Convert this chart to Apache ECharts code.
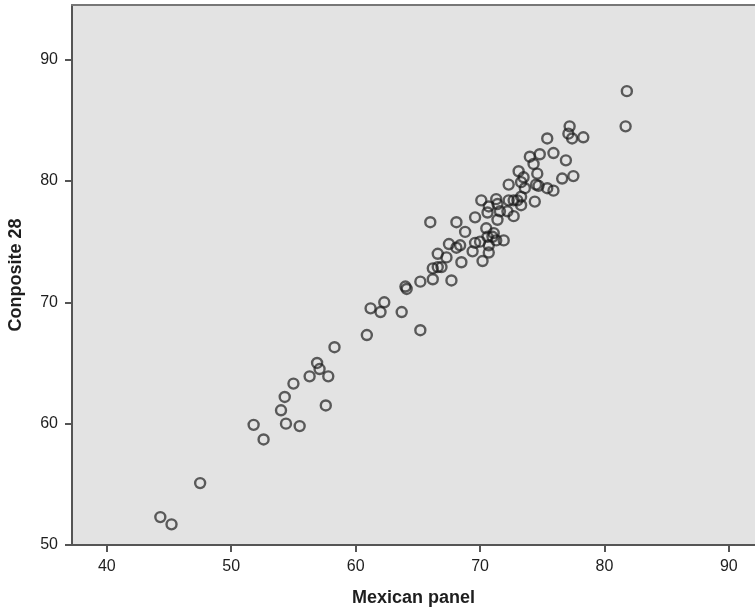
<!DOCTYPE html>
<html>
<head>
<meta charset="utf-8">
<script src="https://cdn.jsdelivr.net/npm/echarts@6/dist/echarts.min.js"></script>
<style>
  html, body { margin: 0; padding: 0; background: #fff; }
  #chart { width: 755px; height: 608px; }
</style>
</head>
<body>
<div id="chart"></div>
<script>
// Mexican panel (x) vs Composite 28 (y)
var mexican = [
  44.3, 45.2, 47.5, 51.8, 52.6, 54.0, 54.4, 55.5, 54.3, 55.0,
  56.3, 56.9, 57.1, 57.8, 57.6, 58.3, 60.9, 61.2, 62.0, 62.3,
  63.7, 65.2, 64.0, 64.1, 65.2, 66.2, 67.7, 66.2, 66.6, 66.9,
  66.6, 67.3, 66.0, 67.5, 68.1, 68.4, 68.5, 68.1, 68.8, 69.4,
  69.6, 70.0, 70.2, 70.7, 70.7, 70.6, 71.0, 71.3, 71.9, 70.5,
  69.6, 70.6, 70.7, 70.1, 71.3, 71.4, 71.6, 72.2, 72.7, 71.4,
  72.3, 72.7, 73.0, 73.3, 73.3, 74.4, 72.3, 73.3, 73.6, 74.5,
  74.7, 75.4, 75.9, 73.1, 73.5, 74.6, 74.0, 74.8, 74.3, 75.4,
  75.9, 76.9, 76.6, 77.5, 77.2, 77.1, 77.4, 78.3, 81.7, 81.8,
  71.1
];
var composite = [
  52.3, 51.7, 55.1, 59.9, 58.7, 61.1, 60.0, 59.8, 62.2, 63.3,
  63.9, 65.0, 64.5, 63.9, 61.5, 66.3, 67.3, 69.5, 69.2, 70.0,
  69.2, 67.7, 71.3, 71.1, 71.7, 71.9, 71.8, 72.8, 72.9, 72.9,
  74.0, 73.7, 76.6, 74.8, 74.5, 74.7, 73.3, 76.6, 75.8, 74.2,
  74.9, 75.0, 73.4, 74.1, 74.7, 75.4, 75.4, 75.1, 75.1, 76.1,
  77.0, 77.4, 77.9, 78.4, 78.5, 78.1, 77.5, 77.5, 77.1, 76.8,
  78.4, 78.4, 78.4, 78.7, 78.0, 78.3, 79.7, 79.9, 79.4, 79.7,
  79.6, 79.4, 79.2, 80.8, 80.3, 80.6, 82.0, 82.2, 81.4, 83.5,
  82.3, 81.7, 80.2, 80.4, 84.5, 83.9, 83.5, 83.6, 84.5, 87.4,
  75.7
];
var xTicks = [40, 50, 60, 70, 80, 90];
var yTicks = [50, 60, 70, 80, 90];

var points = mexican.map(function (x, i) { return [x, composite[i]]; });

var chart = echarts.init(document.getElementById('chart'));
var axisColor = '#555';
var labelFont = { fontFamily: 'Liberation Sans', fontSize: 16, color: '#1e1e1e' };

chart.setOption({
  animation: false,
  grid: {
    left: 72, right: 0, top: 5, bottom: 63,
    containLabel: false,
    outerBoundsMode: 'none',
    show: true, backgroundColor: '#e3e3e3', borderWidth: 0
  },
  xAxis: [{
    type: 'value',
    min: 37.2, max: 92.1,
    name: 'Mexican panel',
    nameLocation: 'middle',
    nameGap: 44,
    nameTextStyle: { fontFamily: 'Liberation Sans', fontSize: 18, fontWeight: 'bold', color: '#1e1e1e' },
    splitLine: { show: false },
    axisLine: { show: true, onZero: false, lineStyle: { color: axisColor, width: 2 } },
    axisTick: { show: true, customValues: xTicks, length: 7, lineStyle: { color: axisColor, width: 2 } },
    axisLabel: Object.assign({ customValues: xTicks, margin: 14 }, labelFont)
  }, {
    type: 'value',
    position: 'top',
    min: 37.2, max: 92.1,
    splitLine: { show: false },
    axisLine: { show: true, onZero: false, lineStyle: { color: '#777', width: 2 } },
    axisTick: { show: false },
    axisLabel: { show: false }
  }],
  yAxis: {
    type: 'value',
    min: 50, max: 94.5,
    name: 'Conposite 28',
    nameLocation: 'middle',
    nameGap: 47,
    nameTextStyle: { fontFamily: 'Liberation Sans', fontSize: 18, fontWeight: 'bold', color: '#1e1e1e' },
    splitLine: { show: false },
    axisLine: { show: true, onZero: false, lineStyle: { color: axisColor, width: 2 } },
    axisTick: { show: true, customValues: yTicks, length: 7, lineStyle: { color: axisColor, width: 2 } },
    axisLabel: Object.assign({ customValues: yTicks, margin: 14 }, labelFont)
  },
  series: [{
    type: 'scatter',
    xAxisIndex: 0,
    data: points,
    symbol: 'circle',
    symbolSize: 10,
    itemStyle: { color: 'rgba(0,0,0,0)', borderColor: 'rgba(25,25,25,0.85)', borderWidth: 2.4 }
  }]
});
</script>
</body>
</html>
